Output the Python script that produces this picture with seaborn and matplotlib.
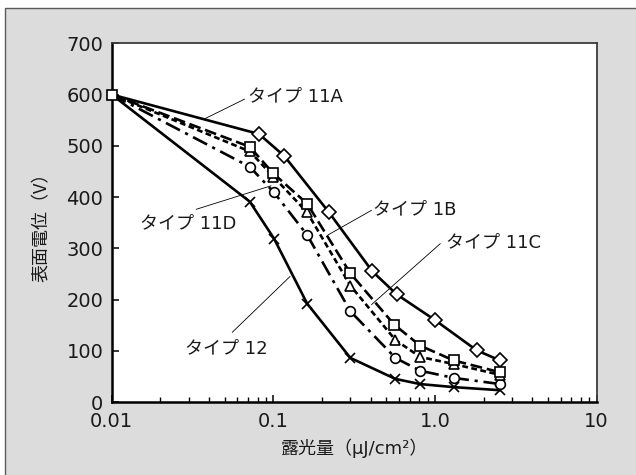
import numpy as np
import pandas as pd
import matplotlib
matplotlib.use("Agg")
import matplotlib.pyplot as plt
from matplotlib.patches import Rectangle
from matplotlib.lines import Line2D
from matplotlib.ticker import FixedLocator, LogLocator, NullFormatter
import seaborn as sns

# Exposure (uJ/cm^2) and surface potential (V) for each photoreceptor type
dose_11a = [0.01, 0.0815, 0.117, 0.22, 0.41, 0.58, 1.0, 1.81, 2.53]
volt_11a = [600, 523, 480, 371, 255, 210, 160, 101, 81]

dose_1b = [0.01, 0.0715, 0.1, 0.162, 0.30, 0.56, 0.81, 1.31, 2.53]
volt_1b = [600, 498, 446, 387, 251, 151, 110, 81, 58]

dose_11c = [0.01, 0.0715, 0.1, 0.162, 0.30, 0.57, 0.81, 1.31, 2.53]
volt_11c = [600, 489, 440, 370, 227, 121, 88, 74, 53]

dose_11d = [0.01, 0.0715, 0.101, 0.162, 0.30, 0.57, 0.81, 1.31, 2.53]
volt_11d = [600, 459, 409, 326, 177, 86, 61, 47, 35]

dose_12 = [0.01, 0.0715, 0.101, 0.162, 0.30, 0.57, 0.81, 1.31, 2.53]
volt_12 = [600, 391, 319, 192, 86, 45, 35, 29, 23]

labels = ["タイプ 11A", "タイプ 1B", "タイプ 11C", "タイプ 11D", "タイプ 12"]
label_pos = [(0.0693, 596), (0.416, 376), (1.164, 311), (0.015, 348), (0.0283, 105)]
leader_from = [(0.0378, 553), (0.405, 374), (1.08, 309), (0.0333, 376), (0.0557, 136)]
leader_to = [(0.0664, 591), (0.218, 326), (0.405, 190), (0.097, 422), (0.127, 245)]

y_ticks = [0, 100, 200, 300, 400, 500, 600, 700]
x_ticks = [0.01, 0.1, 1.0, 10]
x_ticklabels = ["0.01", "0.1", "1.0", "10"]

sns.set_theme(style="white")
plt.rcParams["font.family"] = ["DejaVu Sans", "Noto Sans CJK JP"]

fig = plt.figure(figsize=(6.36, 4.75), dpi=100, facecolor="white")

# grey panel with a frame line on its top and left edges
x0 = 4.5 / 636
y0 = (475 - 7.5) / 475
fig.add_artist(Rectangle((x0, 0), 1 - x0, y0, transform=fig.transFigure,
                         facecolor="#dcdcdc", edgecolor="none", zorder=0))
fig.add_artist(Line2D([x0, x0, 1], [0, y0, y0], transform=fig.transFigure,
                      color="#5a5a5a", linewidth=1.0, zorder=1))

ax = fig.add_axes([111.7 / 636, (475 - 402) / 475,
                   (596.5 - 111.7) / 636, (402 - 43.3) / 475])
ax.set_facecolor("white")

series = [
    (dose_12, volt_12, "x", "-", 6.5, 3),
    (dose_11d, volt_11d, "o", (0, (6, 2.2, 1.2, 2.2)), 7, 4),
    (dose_11c, volt_11c, "^", (0, (2.2, 1.3)), 7.5, 5),
    (dose_11a, volt_11a, "D", "-", 7, 6),
    (dose_1b, volt_1b, "s", (0, (4.5, 1.8)), 7, 7),
]

for xs, ys, mk, ls, ms, z in series:
    df = pd.DataFrame({"dose": xs, "volt": ys})
    n_before = len(ax.lines)
    sns.lineplot(data=df, x="dose", y="volt", ax=ax, color="black",
                 linewidth=1.9, linestyle=ls, marker=mk, markersize=ms,
                 markeredgecolor="black", markerfacecolor="white",
                 markeredgewidth=1.2, zorder=z, errorbar=None)
    line = ax.lines[n_before]
    if mk != "s":
        line.set_markevery(list(range(1, len(xs))))
    line.set_clip_on(False)
    line.set_markerfacecolor("white")
    line.set_markeredgecolor("black")

ax.set_xscale("log")
ax.set_xlim(0.01, 10)
ax.set_ylim(0, 700)
ax.xaxis.set_major_locator(FixedLocator(x_ticks))
ax.set_xticklabels(x_ticklabels)
ax.xaxis.set_minor_locator(LogLocator(base=10, subs=np.arange(2, 10)))
ax.xaxis.set_minor_formatter(NullFormatter())
ax.set_yticks(y_ticks)
ax.set_yticklabels([str(v) for v in y_ticks])

ax.tick_params(axis="both", which="major", direction="in", length=5,
               width=1.1, color="black", labelsize=14, labelcolor="#1a1a1a",
               pad=6)
ax.tick_params(axis="x", which="minor", direction="in", length=3.5,
               width=1.0, color="black", bottom=True)
ax.tick_params(axis="x", which="major", pad=7.5)
ax.tick_params(left=True, bottom=True, top=False, right=False)

for side in ["left", "bottom"]:
    ax.spines[side].set_color("black")
    ax.spines[side].set_linewidth(1.8)
for side in ["top", "right"]:
    ax.spines[side].set_color("#3c3c3c")
    ax.spines[side].set_linewidth(1.3)

ax.set_xlabel("露光量（µJ/cm²）", fontsize=13, color="#1a1a1a", labelpad=5,
              family=["DejaVu Sans", "Noto Sans CJK JP"])
ax.set_ylabel("表面電位（V）", fontsize=13, color="#1a1a1a", labelpad=11,
              family=["Noto Sans CJK JP", "DejaVu Sans"])

for text, (tx, ty), p0, p1 in zip(labels, label_pos, leader_from, leader_to):
    ax.text(tx, ty, text, fontsize=13, color="#1a1a1a", va="center",
            ha="left", family=["DejaVu Sans", "Noto Sans CJK JP"], zorder=10)
    ax.annotate("", xy=p1, xytext=p0,
                arrowprops=dict(arrowstyle="-", color="black", lw=0.6,
                                shrinkA=0, shrinkB=0), zorder=9)

fig.savefig("out.png", dpi=100, facecolor=fig.get_facecolor())
